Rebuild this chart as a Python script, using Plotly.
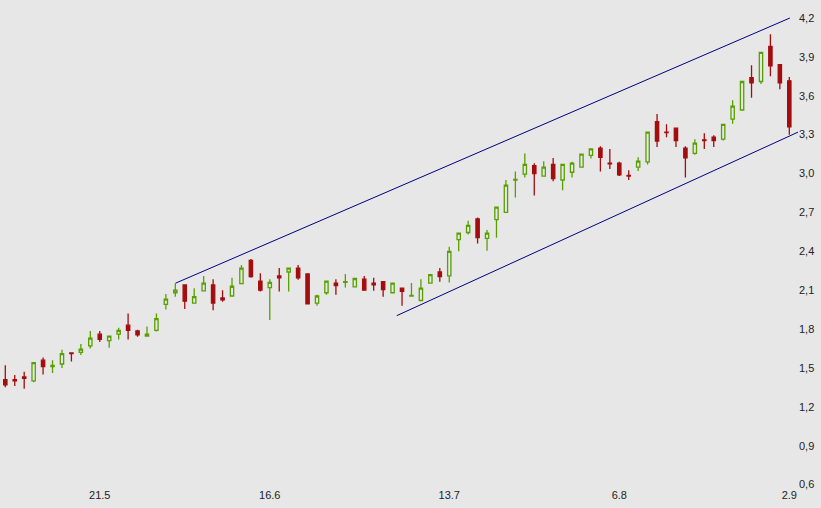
import plotly.graph_objects as go

opens = [1.41,1.41,1.43,1.40,1.56,1.51,1.53,1.615,1.62,1.67,
         1.76,1.71,1.76,1.83,1.785,1.745,1.79,1.99,2.08,2.14,
         2.0,2.095,2.14,2.04,2.055,2.15,2.33,2.17,2.12,2.21,
         2.24,2.27,2.225,2.0,2.08,2.155,2.16,2.125,2.185,2.155,
         2.165,2.08,2.115,2.055,2.02,2.155,2.24,2.21,2.49,2.545,
         2.65,2.50,2.645,2.70,2.95,2.995,3.06,2.98,3.07,2.95,
         3.01,3.05,3.14,3.195,3.08,3.08,2.985,3.05,3.09,3.40,
         3.32,3.35,3.195,3.155,3.26,3.28,3.265,3.42,3.49,3.74,
         3.71,3.98,3.84,3.715]
highs = [1.52,1.445,1.47,1.545,1.58,1.56,1.64,1.615,1.685,1.785,
         1.785,1.745,1.81,1.92,1.795,1.82,1.92,2.07,2.15,2.14,
         2.115,2.21,2.185,2.10,2.195,2.295,2.34,2.23,2.185,2.27,
         2.275,2.295,2.225,2.065,2.17,2.185,2.225,2.195,2.21,2.195,
         2.165,2.16,2.115,2.155,2.185,2.225,2.27,2.435,2.545,2.635,
         2.66,2.565,2.745,2.95,3.015,3.155,3.08,3.095,3.12,3.075,
         3.09,3.15,3.195,3.21,3.19,3.09,3.025,3.125,3.32,3.46,
         3.38,3.355,3.21,3.265,3.31,3.295,3.38,3.565,3.715,3.835,
         3.935,4.075,3.84,3.745]
lows = [1.35,1.36,1.34,1.39,1.45,1.46,1.50,1.55,1.60,1.65,
        1.70,1.655,1.72,1.72,1.74,1.74,1.78,1.95,2.05,1.955,
        1.995,2.095,1.945,2.01,2.05,2.15,2.195,2.09,1.87,2.09,
        2.09,2.18,1.99,1.98,2.065,2.065,2.12,2.125,2.095,2.095,
        2.05,2.075,1.98,2.05,2.02,2.15,2.165,2.16,2.40,2.53,
        2.46,2.405,2.505,2.70,2.815,2.97,2.83,2.975,2.94,2.87,
        2.97,3.045,3.115,3.015,3.035,2.98,2.95,3.02,3.07,3.205,
        3.28,3.205,2.97,3.145,3.19,3.205,3.255,3.385,3.49,3.585,
        3.69,3.75,3.65,3.30]
closes = [1.37,1.40,1.42,1.54,1.51,1.52,1.61,1.61,1.645,1.73,
          1.72,1.745,1.79,1.79,1.755,1.76,1.88,2.03,2.10,2.015,
          2.05,2.155,2.0,2.025,2.13,2.27,2.205,2.10,2.16,2.195,
          2.27,2.195,1.995,2.055,2.17,2.135,2.165,2.19,2.10,2.14,
          2.105,2.155,2.09,2.06,2.115,2.22,2.205,2.40,2.54,2.60,
          2.505,2.54,2.74,2.91,2.955,3.07,3.0,3.05,2.96,3.07,
          3.08,3.15,3.19,3.125,3.075,2.99,2.98,3.095,3.32,3.25,
          3.315,3.255,3.12,3.235,3.255,3.255,3.38,3.52,3.71,3.70,
          3.935,3.83,3.70,3.36]

days = list(range(len(opens)))
tick_pos = [10, 28, 47, 65, 83]
tick_text = ["21.5", "16.6", "13.7", "6.8", "2.9"]
y_ticks = [0.6, 0.9, 1.2, 1.5, 1.8, 2.1, 2.4, 2.7, 3.0, 3.3, 3.6, 3.9, 4.2]

upper_x = [18.0, 83.06]
upper_y = [2.153, 4.2]
lower_x = [41.44, 84.42]
lower_y = [1.903, 3.336]

BG = "#e7e7e7"
GREEN = "#58a000"
RED = "#a30d0d"
BLUE = "#000080"

fig = go.Figure()
fig.add_trace(go.Candlestick(
    x=days, open=opens, high=highs, low=lows, close=closes,
    increasing=dict(line=dict(color=GREEN, width=1.3), fillcolor="rgba(0,0,0,0)"),
    decreasing=dict(line=dict(color=RED, width=1.3), fillcolor=RED),
    whiskerwidth=0, showlegend=False, hoverinfo="skip",
))

for xs, ys in [(upper_x, upper_y), (lower_x, lower_y)]:
    fig.add_shape(type="line", xref="x", yref="y", x0=xs[0], y0=ys[0], x1=xs[1], y1=ys[1],
                  line=dict(color=BLUE, width=1))

fig.update_layout(
    width=821, height=508,
    margin=dict(l=0, r=23, t=0, b=21),
    paper_bgcolor=BG, plot_bgcolor=BG,
    separators=", ",
    boxgap=0.5,
    font=dict(family="Liberation Sans, Arial, sans-serif", size=11, color="#222222"),
    xaxis=dict(range=[-0.561, 83.92], tickmode="array", tickvals=tick_pos, ticktext=tick_text,
               showgrid=False, zeroline=False, showline=False, ticks="", automargin=False,
               rangeslider=dict(visible=False), fixedrange=True),
    yaxis=dict(range=[0.581, 4.339], side="right", tickmode="array", tickvals=y_ticks,
               tickformat=".1f", showgrid=False, zeroline=False, showline=False, ticks="",
               automargin=False, fixedrange=True),
)

fig.write_html(
    "out.html",
    config={"displayModeBar": False},
    post_script="document.body.style.margin='0';document.body.style.overflow='hidden';"
                "document.body.style.background='" + BG + "';",
)
